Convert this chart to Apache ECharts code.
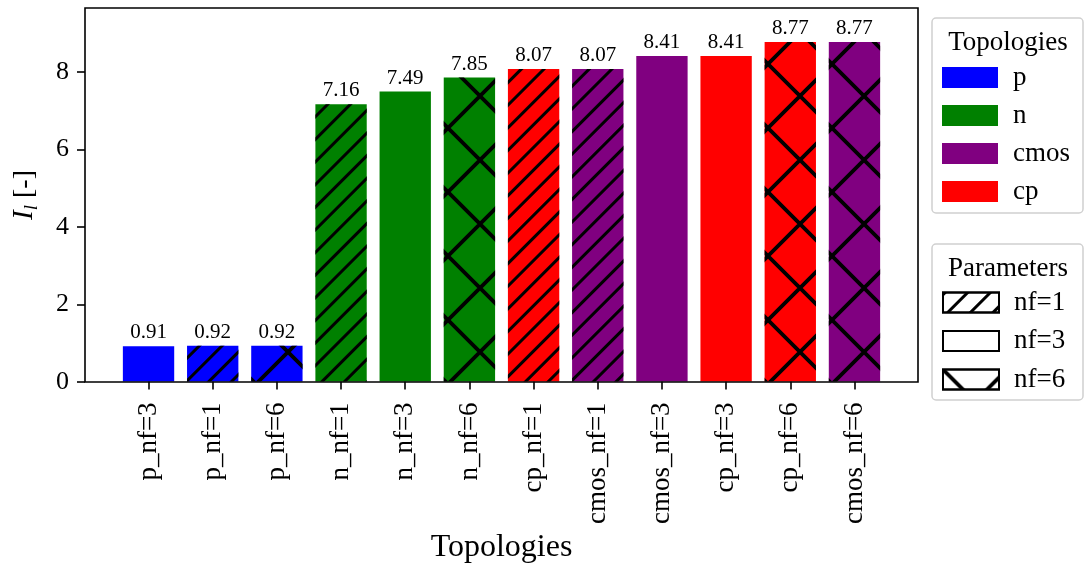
<!DOCTYPE html>
<html>
<head>
<meta charset="utf-8">
<script src="https://cdn.jsdelivr.net/npm/echarts@6/dist/echarts.min.js"></script>
<style>html,body{margin:0;padding:0;background:#fff}#c{width:1085px;height:569px}</style>
</head>
<body>
<div id="c"></div>
<script>
const categories = ['p_nf=3','p_nf=1','p_nf=6','n_nf=1','n_nf=3','n_nf=6','cp_nf=1','cmos_nf=1','cmos_nf=3','cp_nf=3','cp_nf=6','cmos_nf=6'];
const values = [0.91,0.92,0.92,7.16,7.49,7.85,8.07,8.07,8.41,8.41,8.77,8.77];
const topology = ['p','p','p','n','n','n','cp','cmos','cmos','cp','cp','cmos'];
const param = ['nf=3','nf=1','nf=6','nf=1','nf=3','nf=6','nf=1','nf=1','nf=3','nf=3','nf=6','nf=6'];
const topologyNames = ['p','n','cmos','cp'];
const paramNames = ['nf=1','nf=3','nf=6'];
const yTicks = [0,2,4,6,8];
const yMax = 9.647;

const FONT = 'Liberation Serif';
const topoColor = { p:'#0000ff', n:'#008000', cmos:'#800080', cp:'#ff0000' };
const slashDecal = { symbol:'rect', symbolSize:1, dashArrayX:[1,0], dashArrayY:[2.6,12.7], rotation: -Math.PI / 4, color:'#000' };
const crossDecal = { symbol:'path://M0,0L2.7,0L64,61.3L64,64L61.3,64L0,2.7ZM64,0L64,2.7L2.7,64L0,64L0,61.3L61.3,0Z', symbolSize:1, dashArrayX:[64,0], dashArrayY:[64,0], color:'#000' };
const paramDecal = { 'nf=1': slashDecal, 'nf=3': null, 'nf=6': crossDecal };

// plot frame: x 85..918, y 8..382 ; matplotlib xlim [-0.99, 11.99]
const frameL = 85, frameR = 918, frameT = 8, frameB = 382;
const unit = (frameR - frameL) / 12.98;
const barGridL = frameL + 0.49 * unit;
const barGridW = 12 * unit;

function styleFor(color, decal, extra) {
  const s = Object.assign({ color: color }, extra || {});
  if (decal) s.decal = decal;
  return s;
}

const barData = values.map((v, i) => ({
  value: v,
  itemStyle: styleFor(topoColor[topology[i]], paramDecal[param[i]])
}));

const dummy = [];
topologyNames.forEach(n => dummy.push({ type:'bar', name:n, xAxisIndex:0, yAxisIndex:0, data:[], itemStyle: styleFor(topoColor[n], null) }));
paramNames.forEach(n => dummy.push({ type:'bar', name:n, xAxisIndex:0, yAxisIndex:0, data:[], itemStyle: styleFor('#fff', paramDecal[n], { borderColor:'#000', borderWidth:2 }) }));

const chart = echarts.init(document.getElementById('c'), null, { renderer:'canvas' });
chart.setOption({
  animation: false,
  backgroundColor: '#fff',
  textStyle: { fontFamily: FONT, color:'#000' },
  grid: [
    { left: frameL, top: frameT, width: frameR - frameL, height: frameB - frameT, show: true, z: 5, borderColor:'#000', borderWidth: 1.6, backgroundColor:'transparent' },
    { left: barGridL, top: frameT, width: barGridW, height: frameB - frameT }
  ],
  xAxis: [
    { gridIndex: 0, type:'category', data: [''], show: false },
    { gridIndex: 1, type:'category', data: categories,
      axisLine: { show: false },
      axisTick: { show: true, alignWithLabel: true, length: 8, lineStyle: { color:'#000', width: 1.6 } },
      axisLabel: { rotate: 90, margin: 21, fontSize: 27, fontFamily: FONT, color:'#000' },
      name: 'Topologies', nameLocation: 'middle', nameGap: 149,
      nameTextStyle: { fontSize: 32, fontFamily: FONT, color:'#000' }
    }
  ],
  yAxis: [
    { gridIndex: 0, type:'value', min: 0, max: yMax,
      axisLine: { show: false }, splitLine: { show: false },
      axisTick: { show: true, length: 8, customValues: yTicks, lineStyle: { color:'#000', width: 1.6 } },
      axisLabel: { customValues: yTicks, margin: 16, fontSize: 26, fontFamily: FONT, color:'#000' },
      name: '{i|I}{s|l} [-]', nameLocation: 'middle', nameGap: 44, nameRotate: 90,
      nameTextStyle: { fontSize: 28, fontFamily: FONT, color:'#000',
        rich: { i: { fontSize: 29, fontStyle:'italic', fontFamily: FONT }, s: { fontSize: 19, fontStyle:'italic', fontFamily: FONT, padding:[14,0,0,0] } } }
    },
    { gridIndex: 1, type:'value', min: 0, max: yMax, show: false }
  ],
  legend: [
    { data: topologyNames, orient:'vertical', left: 942, top: 64, padding: 0, icon:'rect',
      itemWidth: 56, itemHeight: 21, itemGap: 11, selectedMode: false,
      textStyle: { fontSize: 27, fontFamily: FONT, color:'#000', padding:[0,0,0,10] } },
    { data: paramNames, orient:'vertical', left: 942, top: 289, padding: 0, icon:'rect',
      itemWidth: 56, itemHeight: 20, itemGap: 11.5, selectedMode: false,
      textStyle: { fontSize: 27, fontFamily: FONT, color:'#000', padding:[0,0,0,10] } }
  ],
  graphic: [
    { type:'rect', z: -1, shape:{ x: 932, y: 18, width: 151, height: 195, r: 4 }, style:{ fill:'#fff', stroke:'#d0d0d0', lineWidth: 1.5 } },
    { type:'rect', z: -1, shape:{ x: 932, y: 244, width: 151, height: 156, r: 4 }, style:{ fill:'#fff', stroke:'#d0d0d0', lineWidth: 1.5 } },
    { type:'text', x: 1008, y: 43, style:{ text:'Topologies', font: '27px "Liberation Serif"', fill:'#000', textAlign:'center', textVerticalAlign:'middle' } },
    { type:'text', x: 1008, y: 269, style:{ text:'Parameters', font: '27px "Liberation Serif"', fill:'#000', textAlign:'center', textVerticalAlign:'middle' } }
  ],
  series: [
    { type:'bar', name:'values', xAxisIndex: 1, yAxisIndex: 1, data: barData, barWidth: 0.8 * unit, z: 2,
      label: { show: true, position:'top', distance: 3, fontSize: 21, fontFamily: FONT, color:'#000',
        formatter: p => p.value.toFixed(2) } }
  ].concat(dummy)
});
</script>
</body>
</html>
